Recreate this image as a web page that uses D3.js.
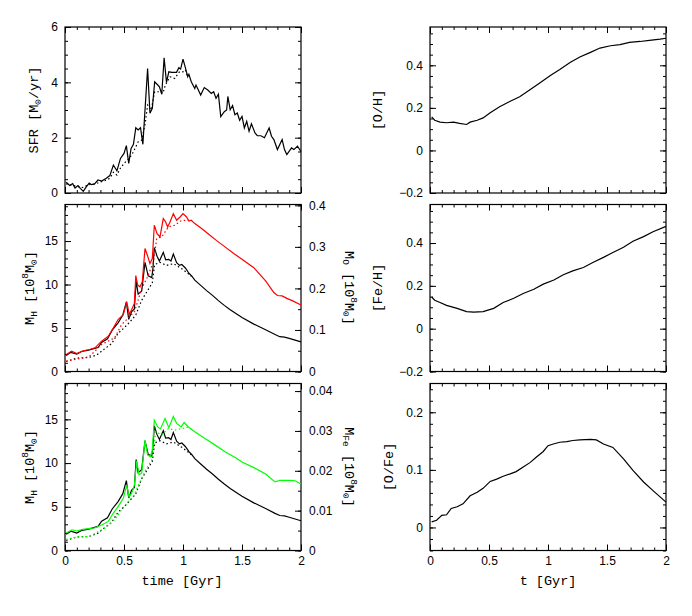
<!DOCTYPE html>
<html>
<head>
<meta charset="utf-8">
<script src="https://cdn.jsdelivr.net/npm/d3@7"></script>
<style>
  body { margin: 0; background: #fff; }
  .tick text { font-family: "Liberation Sans", Arial, sans-serif; font-size: 12px; fill: #000; }
  .tick line { stroke: #000; }
  .lab { font-family: "Liberation Mono", "Courier New", monospace; font-size: 13.5px; fill: #000; }
</style>
</head>
<body>
<svg id="chart" width="692" height="616"></svg>
<script>
// time [Gyr], value pairs
const sfrSolid = [[0.01,0.39],[0.04,0.27],[0.065,0.34],[0.085,0.18],[0.11,0.27],[0.13,0.17],[0.155,0.06],[0.18,0.22],[0.205,0.36],[0.225,0.3],[0.25,0.33],[0.28,0.47],[0.31,0.43],[0.35,0.53],[0.38,0.63],[0.41,1.01],[0.44,0.8],[0.47,1.25],[0.5,1.43],[0.52,1.71],[0.54,1.07],[0.56,1.61],[0.58,1.76],[0.6,2.36],[0.62,2.28],[0.64,2.36],[0.66,1.76],[0.7,4.5],[0.72,2.88],[0.74,3.06],[0.76,4.02],[0.78,3.93],[0.8,3.84],[0.82,3.57],[0.84,4.89],[0.86,4.0],[0.88,4.38],[0.905,4.36],[0.945,4.36],[0.965,4.53],[0.98,4.48],[1.0,4.84],[1.02,4.53],[1.04,4.2],[1.05,4.29],[1.07,4.02],[1.1,3.78],[1.11,3.9],[1.13,3.72],[1.15,3.54],[1.18,3.81],[1.21,3.72],[1.24,3.6],[1.26,3.66],[1.28,3.42],[1.3,3.57],[1.32,2.76],[1.35,2.94],[1.37,3.0],[1.38,3.49],[1.4,3.01],[1.42,3.16],[1.44,2.83],[1.46,2.89],[1.48,2.63],[1.5,2.77],[1.52,2.35],[1.54,2.59],[1.56,2.23],[1.58,2.5],[1.61,2.17],[1.63,2.07],[1.66,2.07],[1.69,2.0],[1.73,2.35],[1.75,2.05],[1.77,1.93],[1.8,1.57],[1.84,1.93],[1.86,1.57],[1.88,1.39],[1.92,1.63],[1.94,1.57],[1.97,1.69],[2.0,1.5]]
const sfrDotted = [[0.01,0.33],[0.06,0.28],[0.1,0.24],[0.15,0.2],[0.2,0.3],[0.25,0.32],[0.3,0.4],[0.34,0.45],[0.38,0.53],[0.41,0.75],[0.44,0.65],[0.47,0.9],[0.5,1.07],[0.53,1.19],[0.56,1.35],[0.58,1.49],[0.62,1.85],[0.65,1.91],[0.68,2.52],[0.7,3.18],[0.73,3.0],[0.76,3.66],[0.8,3.66],[0.83,3.6],[0.85,3.9],[0.89,4.2],[0.93,4.14],[0.97,4.38],[1.0,4.38],[1.02,4.45],[1.04,4.2]]

const mhSolid = [[0.01,1.85],[0.05,2.2],[0.1,2.0],[0.14,2.3],[0.2,2.45],[0.25,2.65],[0.28,2.75],[0.31,3.35],[0.36,3.75],[0.4,4.75],[0.45,5.6],[0.49,6.5],[0.52,8.0],[0.54,6.0],[0.565,6.9],[0.588,7.2],[0.603,10.4],[0.62,8.9],[0.65,9.25],[0.678,12.55],[0.705,11.0],[0.735,10.8],[0.745,11.8],[0.757,14.25],[0.78,13.25],[0.8,12.7],[0.833,13.7],[0.853,12.85],[0.878,12.9],[0.898,12.7],[0.918,13.5],[0.946,12.5],[0.97,12.2],[0.99,12.3],[1.02,11.9],[1.05,11.3],[1.075,10.95],[1.1,10.5],[1.15,9.9],[1.2,9.3],[1.25,8.75],[1.3,8.15],[1.35,7.6],[1.4,7.1],[1.5,6.2],[1.6,5.45],[1.7,4.8],[1.78,4.25],[1.82,4.0],[1.86,3.95],[1.9,3.8],[1.95,3.6],[2.0,3.4]]
const mhDotted = [[0.01,1.15],[0.1,1.55],[0.2,1.6],[0.27,1.9],[0.34,2.65],[0.395,3.2],[0.45,4.4],[0.5,5.0],[0.55,5.7],[0.6,6.5],[0.65,8.2],[0.7,9.3],[0.74,10.2],[0.76,12.3],[0.805,12.55],[0.86,12.2],[0.92,12.4],[0.99,11.8],[1.04,11.3],[1.07,10.95]]
const moSolid = [[0.01,0.041],[0.056,0.049],[0.1,0.043],[0.155,0.05],[0.21,0.053],[0.254,0.057],[0.31,0.073],[0.367,0.085],[0.41,0.105],[0.45,0.125],[0.494,0.137],[0.523,0.168],[0.545,0.137],[0.565,0.149],[0.588,0.164],[0.6,0.231],[0.616,0.208],[0.636,0.204],[0.655,0.216],[0.678,0.296],[0.698,0.28],[0.72,0.26],[0.74,0.272],[0.757,0.352],[0.78,0.332],[0.805,0.324],[0.833,0.368],[0.853,0.36],[0.87,0.348],[0.89,0.36],[0.918,0.38],[0.946,0.364],[0.975,0.372],[1.0,0.38],[1.03,0.372],[1.05,0.362],[1.07,0.364],[1.1,0.356],[1.158,0.344],[1.21,0.332],[1.285,0.315],[1.356,0.3],[1.43,0.284],[1.5,0.27],[1.6,0.25],[1.7,0.218],[1.77,0.19],[1.8,0.183],[1.84,0.182],[1.88,0.176],[1.93,0.17],[2.0,0.16]]
const moDotted = [[0.01,0.025],[0.1,0.03],[0.2,0.035],[0.254,0.049],[0.31,0.065],[0.42,0.081],[0.48,0.113],[0.537,0.129],[0.59,0.145],[0.65,0.2],[0.7,0.228],[0.75,0.264],[0.777,0.32],[0.82,0.324],[0.876,0.348],[0.93,0.352],[0.99,0.364],[1.045,0.364],[1.07,0.364]]
const mfeSolid = [[0.01,0.0044],[0.06,0.0052],[0.1,0.0049],[0.15,0.0053],[0.2,0.0055],[0.254,0.0057],[0.31,0.0064],[0.367,0.0073],[0.41,0.0094],[0.45,0.011],[0.494,0.0131],[0.523,0.0164],[0.542,0.0135],[0.565,0.0144],[0.588,0.0164],[0.608,0.0225],[0.627,0.019],[0.65,0.0194],[0.678,0.0277],[0.7,0.024],[0.723,0.0235],[0.74,0.0252],[0.757,0.0327],[0.786,0.031],[0.808,0.0305],[0.848,0.0331],[0.88,0.0308],[0.918,0.0336],[0.946,0.0319],[0.984,0.031],[1.01,0.0321],[1.045,0.031],[1.1,0.0298],[1.186,0.0281],[1.27,0.0265],[1.356,0.0248],[1.45,0.0232],[1.5,0.0222],[1.6,0.0208],[1.7,0.0192],[1.78,0.0172],[1.82,0.0176],[1.9,0.0176],[1.95,0.0175],[2.0,0.0167]]
const mfeDotted = [[0.01,0.0028],[0.1,0.0034],[0.2,0.0035],[0.254,0.0043],[0.34,0.0056],[0.42,0.0077],[0.48,0.0102],[0.537,0.0123],[0.58,0.0135],[0.636,0.0173],[0.69,0.0206],[0.735,0.0227],[0.77,0.0298],[0.82,0.029],[0.876,0.0306],[0.93,0.0302],[0.99,0.0306],[1.045,0.031],[1.07,0.0305]]

const ohLine = [[0.014,0.158],[0.04,0.142],[0.085,0.133],[0.14,0.13],[0.2,0.133],[0.25,0.127],[0.31,0.122],[0.34,0.133],[0.4,0.142],[0.45,0.153],[0.51,0.177],[0.59,0.205],[0.68,0.231],[0.76,0.252],[0.85,0.286],[0.93,0.317],[1.02,0.352],[1.1,0.38],[1.19,0.414],[1.27,0.439],[1.36,0.461],[1.44,0.481],[1.53,0.492],[1.61,0.497],[1.69,0.508],[1.78,0.512],[1.86,0.517],[1.95,0.523],[2.0,0.527]]
const fehLine = [[0.014,0.148],[0.04,0.133],[0.085,0.122],[0.14,0.109],[0.23,0.095],[0.31,0.08],[0.37,0.077],[0.45,0.08],[0.54,0.095],[0.62,0.122],[0.71,0.142],[0.79,0.164],[0.88,0.184],[0.96,0.208],[1.05,0.227],[1.13,0.252],[1.21,0.27],[1.3,0.286],[1.38,0.309],[1.47,0.333],[1.55,0.356],[1.64,0.38],[1.72,0.408],[1.81,0.43],[1.89,0.453],[2.0,0.478]]
const ofeLine = [[0.014,0.0098],[0.056,0.0126],[0.1,0.021],[0.14,0.022],[0.18,0.033],[0.23,0.036],[0.28,0.041],[0.34,0.055],[0.4,0.061],[0.45,0.068],[0.51,0.08],[0.565,0.084],[0.62,0.089],[0.68,0.093],[0.73,0.097],[0.79,0.105],[0.85,0.113],[0.9,0.122],[0.96,0.132],[1.0,0.142],[1.045,0.145],[1.1,0.148],[1.16,0.149],[1.21,0.151],[1.27,0.152],[1.36,0.153],[1.41,0.152],[1.47,0.145],[1.55,0.139],[1.64,0.119],[1.72,0.099],[1.81,0.079],[1.89,0.064],[2.0,0.044]]

// tick labels
const xTicks = [0, 0.5, 1, 1.5, 2]
const sfrTicks = [0, 2, 4, 6]
const mhTicks = [0, 5, 10, 15]
const moTicks = [0, 0.1, 0.2, 0.3, 0.4]
const mfeTicks = [0, 0.01, 0.02, 0.03, 0.04]
const abTicks = [-0.2, 0, 0.2, 0.4]
const ofeTicks = [0, 0.1, 0.2]

const svg = d3.select('#chart')
svg.append('rect').attr('width', 692).attr('height', 616).attr('fill', '#fff')

const colLeft = [65, 301], colRight = [430, 666]
const rows = [[27, 193], [204.5, 371.5], [383.5, 550.5]]

const trim = f => d => d === 0 ? '0' : d3.format(f)(d)

function panel(xr, yr, o) {
    const x = d3.scaleLinear().domain([0, 2]).range(xr)
    const y = d3.scaleLinear().domain(o.yDomain).range([yr[1], yr[0]])
    const y2 = o.y2Domain ? d3.scaleLinear().domain(o.y2Domain).range([yr[1], yr[0]]) : null
    const g = svg.append('g')

    const addAxis = (axis, tx, ty, values, size, fmt, pad) => g.append('g')
        .attr('transform', `translate(${tx},${ty})`)
        .call(axis.tickValues(values).tickSize(size).tickSizeOuter(0).tickFormat(fmt).tickPadding(pad))
        .call(s => s.select('.domain').remove())

    const xMinor = d3.range(0, 2.001, 0.1)
    addAxis(d3.axisBottom(x), 0, yr[1], xMinor, -3, '', 0)
    addAxis(d3.axisBottom(x), 0, yr[1], xTicks, -6, o.xLabels ? d => String(d) : '', 6)
    addAxis(d3.axisTop(x), 0, yr[0], xMinor, -3, '', 0)
    addAxis(d3.axisTop(x), 0, yr[0], xTicks, -6, '', 0)

    const yMinor = d3.range(o.yDomain[0], o.yDomain[1] + 1e-9, o.yMinor).map(v => +v.toFixed(6))
    addAxis(d3.axisLeft(y), xr[0], 0, yMinor, -3, '', 0)
    addAxis(d3.axisLeft(y), xr[0], 0, o.yTicks, -6, o.yFmt, 7)
    if (y2) {
        const y2Minor = d3.range(o.y2Domain[0], o.y2Domain[1] + 1e-9, o.y2Minor)
        addAxis(d3.axisRight(y2), xr[1], 0, y2Minor, -3, '', 0)
        addAxis(d3.axisRight(y2), xr[1], 0, o.y2Ticks, -6, o.y2Fmt, 8)
    } else {
        addAxis(d3.axisRight(y), xr[1], 0, yMinor, -3, '', 0)
        addAxis(d3.axisRight(y), xr[1], 0, o.yTicks, -6, '', 0)
    }

    g.append('rect')
        .attr('x', xr[0]).attr('y', yr[0])
        .attr('width', xr[1] - xr[0]).attr('height', yr[1] - yr[0])
        .attr('fill', 'none').attr('stroke', '#000').attr('stroke-width', 1.2)

    o.series.forEach(s => {
        const sc = s.right ? y2 : y
        g.append('path')
            .datum(s.data)
            .attr('fill', 'none')
            .attr('stroke', s.color)
            .attr('stroke-width', 1.2)
            .attr('stroke-dasharray', s.dotted ? '1.5,2.5' : null)
            .attr('d', d3.line().x(d => x(d[0])).y(d => sc(d[1])))
    })
}

function label(x, y, rot, parts) {
    const t = svg.append('text')
        .attr('class', 'lab')
        .attr('transform', `translate(${x},${y}) rotate(${rot})`)
        .attr('text-anchor', 'middle')
        .attr('dominant-baseline', 'central')
    let shift = 0
    parts.forEach(p => {
        const s = p[1] == 'sub' ? 3.5 : p[1] == 'sup' ? -5 : 0
        t.append('tspan')
            .attr('dy', s - shift)
            .style('font-size', s ? '9.5px' : null)
            .text(p[0])
        shift = s
    })
}

// left column
panel(colLeft, rows[0], {
    yDomain: [0, 6], yTicks: sfrTicks, yMinor: 0.5, yFmt: d3.format('d'),
    series: [
        { data: sfrDotted, color: '#000', dotted: true },
        { data: sfrSolid, color: '#000' }
    ]
})
panel(colLeft, rows[1], {
    yDomain: [0, 19.2], yTicks: mhTicks, yMinor: 1, yFmt: d3.format('d'),
    y2Domain: [0, 0.402], y2Ticks: moTicks, y2Minor: 0.05, y2Fmt: trim('.1f'),
    series: [
        { data: mhDotted, color: '#000', dotted: true },
        { data: mhSolid, color: '#000' },
        { data: moDotted, color: '#ff0000', dotted: true, right: true },
        { data: moSolid, color: '#ff0000', right: true }
    ]
})
panel(colLeft, rows[2], {
    yDomain: [0, 19.1], yTicks: mhTicks, yMinor: 1, yFmt: d3.format('d'),
    y2Domain: [0, 0.0419], y2Ticks: mfeTicks, y2Minor: 0.005, y2Fmt: trim('.2f'),
    xLabels: true,
    series: [
        { data: mhDotted, color: '#000', dotted: true },
        { data: mhSolid, color: '#000' },
        { data: mfeDotted, color: '#00ff00', dotted: true, right: true },
        { data: mfeSolid, color: '#00ff00', right: true }
    ]
})

// right column
panel(colRight, rows[0], {
    yDomain: [-0.2, 0.58], yTicks: abTicks, yMinor: 0.05, yFmt: trim('.1f'),
    series: [{ data: ohLine, color: '#000' }]
})
panel(colRight, rows[1], {
    yDomain: [-0.2, 0.58], yTicks: abTicks, yMinor: 0.05, yFmt: trim('.1f'),
    series: [{ data: fehLine, color: '#000' }]
})
panel(colRight, rows[2], {
    yDomain: [-0.04, 0.25], yTicks: ofeTicks, yMinor: 0.02, yFmt: trim('.1f'),
    xLabels: true,
    series: [{ data: ofeLine, color: '#000' }]
})

// axis titles
label(34, 110, -90, [['SFR [M'], ['\u2299', 'sub'], ['/yr]']])
label(30, 288, -90, [['M'], ['H', 'sub'], [' [10'], ['8', 'sup'], ['M'], ['\u2299', 'sub'], [']']])
label(30, 467, -90, [['M'], ['H', 'sub'], [' [10'], ['8', 'sup'], ['M'], ['\u2299', 'sub'], [']']])
label(349, 288, 90, [['M'], ['O', 'sub'], [' [10'], ['8', 'sup'], ['M'], ['\u2299', 'sub'], [']']])
label(349, 467, 90, [['M'], ['Fe', 'sub'], [' [10'], ['8', 'sup'], ['M'], ['\u2299', 'sub'], [']']])
label(378, 110, -90, [['[O/H]']])
label(378, 288, -90, [['[Fe/H]']])
label(389, 467, -90, [['[O/Fe]']])
label(182, 581, 0, [['time [Gyr]']])
label(548, 581, 0, [['t [Gyr]']])
</script>
</body>
</html>
